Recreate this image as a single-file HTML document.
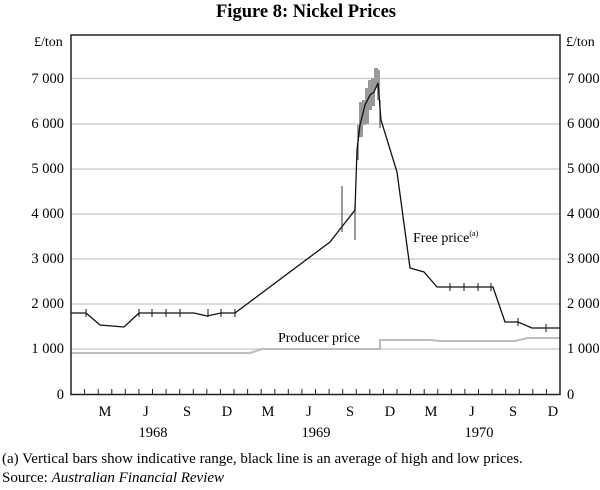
<!DOCTYPE html>
<html><head><meta charset="utf-8"><style>
body{margin:0;background:#fff;}
svg{font-family:"Liberation Serif",serif;}
</style></head><body>
<svg width="600" height="485" viewBox="0 0 600 485" xmlns="http://www.w3.org/2000/svg">
<text x="306" y="17" text-anchor="middle" font-size="18.5" font-weight="bold">Figure 8: Nickel Prices</text>
<text x="34" y="46" font-size="14">£/ton</text>
<text x="566" y="46" font-size="14">£/ton</text>
<g stroke="#c8c8c8" stroke-width="1.2">
<line x1="71" x2="560" y1="78.5" y2="78.5"/><line x1="71" x2="560" y1="124" y2="124"/>
<line x1="71" x2="560" y1="169" y2="169"/><line x1="71" x2="560" y1="214" y2="214"/>
<line x1="71" x2="560" y1="259" y2="259"/><line x1="71" x2="560" y1="304" y2="304"/>
<line x1="71" x2="560" y1="349" y2="349"/>
</g>
<g font-size="14.5" text-anchor="end">
<text x="64" y="83">7 000</text><text x="64" y="128">6 000</text><text x="64" y="173">5 000</text>
<text x="64" y="218">4 000</text><text x="64" y="263">3 000</text><text x="64" y="308">2 000</text>
<text x="64" y="353">1 000</text><text x="64" y="399">0</text>
</g>
<g font-size="14.5">
<text x="567" y="83">7 000</text><text x="567" y="128">6 000</text><text x="567" y="173">5 000</text>
<text x="567" y="218">4 000</text><text x="567" y="263">3 000</text><text x="567" y="308">2 000</text>
<text x="567" y="353">1 000</text><text x="567" y="399">0</text>
</g>
<path d="M71 353 H250 L262 349 H380 V340 H430 L440 341 H515 L528 338 H560" fill="none" stroke="#bdbdbd" stroke-width="2"/>
<g fill="#999">
<rect x="359" y="102" width="4" height="35"/>
<rect x="362" y="100" width="4" height="25"/>
<rect x="365" y="88" width="4" height="36"/>
<rect x="368" y="80" width="4" height="30"/>
<rect x="371" y="78" width="4" height="28"/>
<rect x="374" y="68" width="4" height="20"/>
<rect x="377" y="70" width="3" height="30"/>
</g>
<g stroke="#555" stroke-width="1.2">
<line x1="342" x2="342" y1="186" y2="232"/><line x1="355" x2="355" y1="205" y2="240"/>
<line x1="358" x2="358" y1="125" y2="160"/><line x1="380" x2="380" y1="100" y2="128"/>
</g>
<path d="M71 313 H86 L100 325 L124 327 L139 313 H194 L207 316 L221 313 H235 L330 242 L355 210 L357 150 L360 125 L365 105 L370 95 L374 92 L378 83 L381 120 L397 172 L410 268 L424 272 L437 287 H493 L505 322 H518 L532 328 H560" fill="none" stroke="#111" stroke-width="1.3"/>
<g stroke="#111" stroke-width="1">
<line x1="86" x2="86" y1="309" y2="317"/><line x1="139" x2="139" y1="309" y2="317"/><line x1="152" x2="152" y1="309" y2="317"/><line x1="166" x2="166" y1="309" y2="317"/><line x1="180" x2="180" y1="309" y2="317"/><line x1="208" x2="208" y1="309" y2="317"/><line x1="221" x2="221" y1="309" y2="317"/><line x1="235" x2="235" y1="309" y2="317"/>
<line x1="450" x2="450" y1="283" y2="291"/><line x1="464" x2="464" y1="283" y2="291"/><line x1="478" x2="478" y1="283" y2="291"/><line x1="491" x2="491" y1="283" y2="291"/>
<line x1="518" x2="518" y1="318" y2="326"/><line x1="546" x2="546" y1="324" y2="332"/>
</g>
<text x="413" y="242" font-size="14">Free price<tspan font-size="8" dy="-6">(a)</tspan></text>
<text x="278" y="342" font-size="14">Producer price</text>
<rect x="71" y="35" width="489" height="359.5" fill="none" stroke="#222" stroke-width="1.5"/>
<g stroke="#222" stroke-width="1">
<path d="M84.6 394v-5M98.2 394v-5M111.8 394v-5M125.3 394v-5M138.9 394v-5M152.5 394v-5M166.1 394v-5M179.7 394v-5M193.3 394v-5M206.8 394v-5M220.4 394v-5M234 394v-5M247.6 394v-5M261.2 394v-5M274.8 394v-5M288.3 394v-5M301.9 394v-5M315.5 394v-5M329.1 394v-5M342.7 394v-5M356.3 394v-5M369.8 394v-5M383.4 394v-5M397 394v-5M410.6 394v-5M424.2 394v-5M437.8 394v-5M451.3 394v-5M464.9 394v-5M478.5 394v-5M492.1 394v-5M505.7 394v-5M519.3 394v-5M532.8 394v-5M546.4 394v-5"/>
</g>
<g font-size="14.5" text-anchor="middle">
<text x="105" y="416">M</text><text x="146" y="416">J</text><text x="187" y="416">S</text><text x="227" y="416">D</text>
<text x="268" y="416">M</text><text x="309" y="416">J</text><text x="350" y="416">S</text><text x="390" y="416">D</text>
<text x="431" y="416">M</text><text x="472" y="416">J</text><text x="513" y="416">S</text><text x="553" y="416">D</text>
<text x="153" y="437">1968</text><text x="316" y="437">1969</text><text x="479" y="437">1970</text>
</g>
<text x="2" y="463" font-size="15">(a) Vertical bars show indicative range, black line is an average of high and low prices.</text>
<text x="2" y="482" font-size="15">Source: <tspan font-style="italic">Australian Financial Review</tspan></text>
</svg>
</body></html>
